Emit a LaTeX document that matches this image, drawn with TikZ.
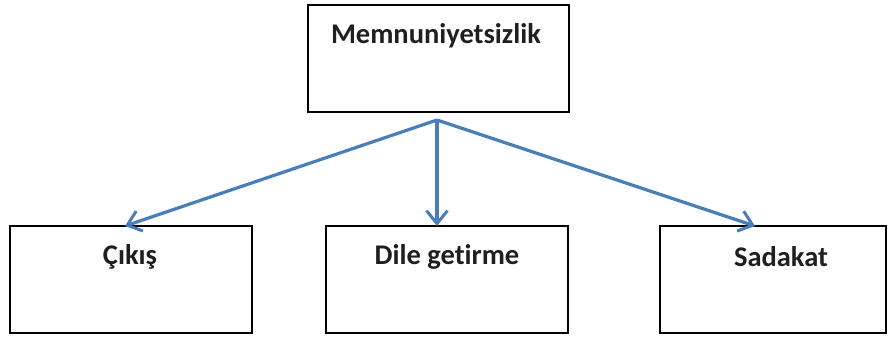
\documentclass[tikz,border=0pt]{standalone}
\usepackage{fontspec}
\setmainfont{Carlito}[Ligatures=NoCommon]
\usetikzlibrary{arrows.meta}
\definecolor{arrowblue}{RGB}{74,126,187}
\begin{document}
\begin{tikzpicture}[x=1pt,y=-1pt,
  box/.style={draw=black,line width=2pt,rectangle,inner sep=0pt},
  lbl/.style={font=\fontsize{28.5}{32}\selectfont\bfseries,text=black!88,inner sep=0pt},
  conn/.style={draw=arrowblue,line width=3.2pt,-{Straight Barb[length=13pt,width=21pt,line width=3pt]}}]
\useasboundingbox (0,0) rectangle (895,338);
\node[box,minimum width=261pt,minimum height=107pt] (top) at (438,58.5) {};
\node[box,minimum width=242pt,minimum height=107pt] (left) at (131,279.5) {};
\node[box,minimum width=242pt,minimum height=107pt] (mid) at (447,279.5) {};
\node[box,minimum width=226pt,minimum height=107pt] (right) at (773,279.5) {};
\node[lbl] (ttop) at (436,36) {Memnuniyetsizlik};
\node[lbl] (tleft) at (130,257) {Çıkış};
\node[lbl] (tmid) at (447,257) {Dile getirme};
\node[lbl] (tright) at (781,257) {Sadakat};
\coordinate (src) at (437,120);
\coordinate (tipL) at (125,226);
\coordinate (tipM) at (437,226);
\coordinate (tipR) at (755,226);
\draw[conn] (src) -- (tipL);
\draw[conn] (src) -- (tipM);
\draw[conn] (src) -- (tipR);
\end{tikzpicture}
\end{document}
